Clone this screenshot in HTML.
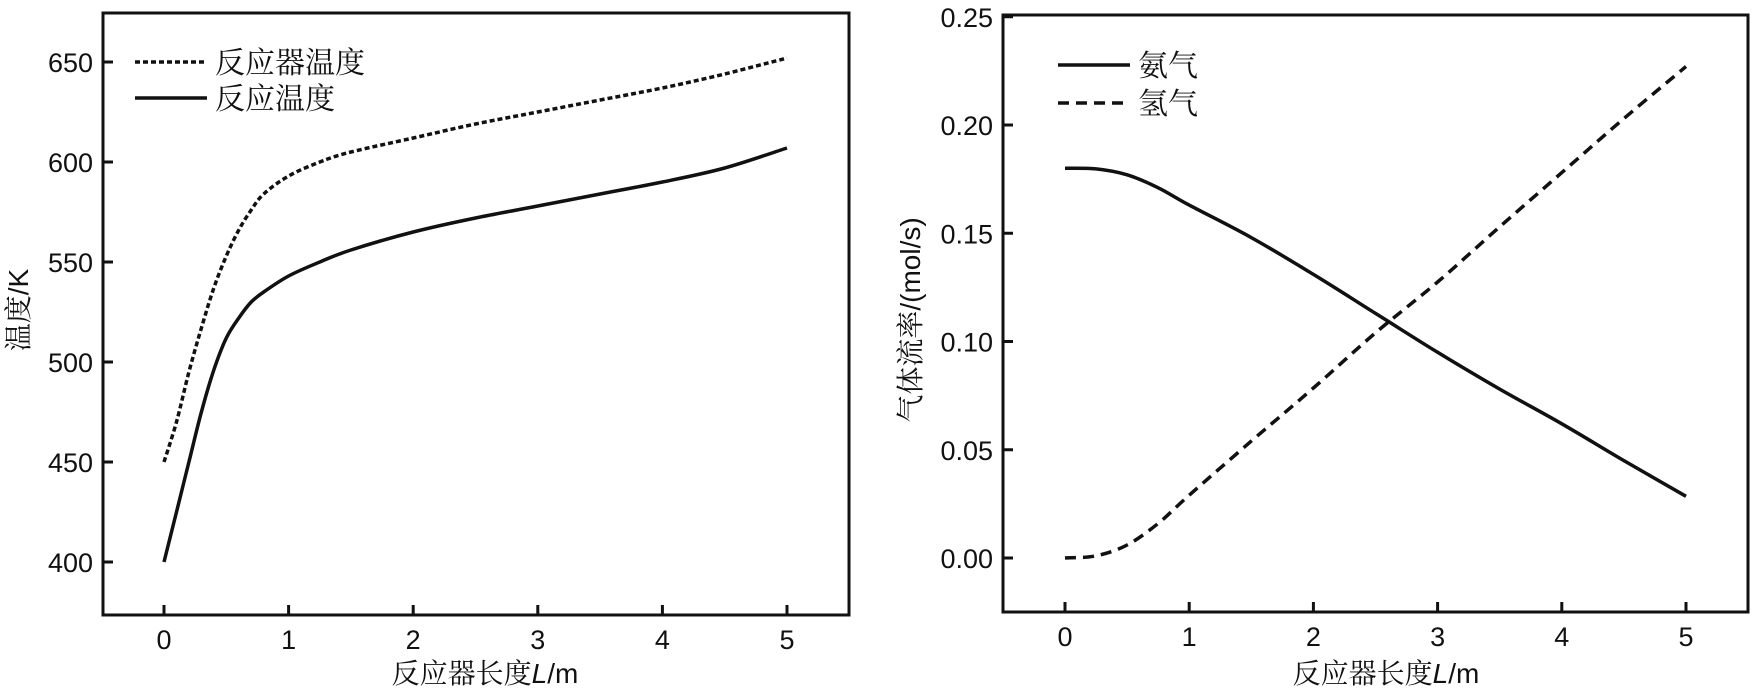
<!DOCTYPE html>
<html><head><meta charset="utf-8"><style>
html,body{margin:0;padding:0;background:#fff;}
svg{display:block;font-family:"Liberation Sans","Noto Sans CJK SC",sans-serif;}
.cjk{font-family:"Liberation Serif","Noto Serif CJK SC",serif;}
</style></head><body>
<svg id="c" width="1758" height="691" xmlns="http://www.w3.org/2000/svg"></svg>
<script>
const lx = [0,0.1,0.2,0.3,0.4,0.5,0.6,0.7,0.8,1,1.25,1.5,2,2.5,3,3.5,4,4.5,5];
const reactorTemp = [450,470,495,517,537,553,566,576,584,593,600,605,612,619,625,631,637,644,652];
const reactionTemp = [400,425,450,475,496,512,522,530,535,543,550,556,565,572,578,584,590,597,607];
const leftTicksX = [0,1,2,3,4,5];
const leftTicksY = [400,450,500,550,600,650];
const rx = [0,0.25,0.5,0.75,1,1.5,2,2.5,3,3.5,4,4.5,5];
const ammonia = [0.18,0.1797,0.177,0.171,0.163,0.148,0.131,0.113,0.095,0.078,0.062,0.045,0.0285];
const hydrogen = [0,0.001,0.006,0.016,0.029,0.054,0.0785,0.104,0.1275,0.153,0.178,0.203,0.227];
const rightTicksX = [0,1,2,3,4,5];
const rightTicksY = ["0.00","0.05","0.10","0.15","0.20","0.25"];

const NS="http://www.w3.org/2000/svg";
const svg=document.getElementById('c');
function mk(t,a,parent){const e=document.createElementNS(NS,t);for(const k in a)e.setAttribute(k,a[k]);(parent||svg).appendChild(e);return e;}

const lX=v=>164+v*124.6, lY=v=>562-(v-400)*2;
const rX=v=>1065+v*124.2, rY=v=>558-v*2165;

function panel(box, xs, xf, ys, yf, pre){
  const r=mk('rect',{x:box[0],y:box[1],width:box[2]-box[0],height:box[3]-box[1],fill:'none',stroke:'#111','stroke-width':3});
  
  
  xs.forEach(v=>{
    const l=mk('line',{x1:xf(v),x2:xf(v),y1:box[3],y2:box[3]-10,stroke:'#111','stroke-width':3});
    
    
    const t=mk('text',{x:xf(v),y:box[3]+34,'text-anchor':'middle','font-size':27,fill:'#111'});
    t.textContent=v;
    
    
  });
  ys.forEach(v=>{
    const n=parseFloat(v);
    const l=mk('line',{x1:box[0],x2:box[0]+10,y1:yf(n),y2:yf(n),stroke:'#111','stroke-width':3});
    
    
    const t=mk('text',{x:box[0]-10,y:yf(n)+10,'text-anchor':'end','font-size':27,fill:'#111'});
    t.textContent=v;
    
    
  });
}
panel([103,13,849,615],leftTicksX,lX,leftTicksY,lY,'left');
panel([1003,15,1748,612],rightTicksX,rX,rightTicksY,rY,'right');

function line(xs,ys,xf,yf,dash,name){
  const P=xs.map((x,i)=>[xf(x),yf(ys[i])]);
  let d='M'+P[0][0].toFixed(1)+' '+P[0][1].toFixed(1);
  for(let i=0;i<P.length-1;i++){
    const p0=P[Math.max(i-1,0)],p1=P[i],p2=P[i+1],p3=P[Math.min(i+2,P.length-1)];
    const c1=[p1[0]+(p2[0]-p0[0])/6,p1[1]+(p2[1]-p0[1])/6];
    const c2=[p2[0]-(p3[0]-p1[0])/6,p2[1]-(p3[1]-p1[1])/6];
    d+=` C${c1[0].toFixed(1)} ${c1[1].toFixed(1)} ${c2[0].toFixed(1)} ${c2[1].toFixed(1)} ${p2[0].toFixed(1)} ${p2[1].toFixed(1)}`;
  }
  const p=mk('path',{d:d,fill:'none',stroke:'#111','stroke-width':3.5,'stroke-dasharray':dash==='dot'?'5 3':(dash==='dash'?'11 7':'none'),'stroke-linejoin':'round'});
  
  
}
line(lx,reactorTemp,lX,lY,'dot','reactor-temperature-line');
line(lx,reactionTemp,lX,lY,'none','reaction-temperature-line');
line(rx,ammonia,rX,rY,'none','ammonia-line');
line(rx,hydrogen,rX,rY,'dash','hydrogen-line');

function legend(x,y,dash,label,name){
  const l=mk('line',{x1:x,x2:x+72,y1:y,y2:y,stroke:'#111','stroke-width':3.5,'stroke-dasharray':dash});
  
  
  const t=mk('text',{x:x+80,y:y+11,'font-size':30,fill:'#111','class':'cjk'});
  t.textContent=label;
  
  
}
legend(135,62,'5 3','反应器温度','legend-reactor-temperature');
legend(135,98,'none','反应温度','legend-reaction-temperature');
legend(1058,65,'none','氨气','legend-ammonia');
legend(1058,103,'11 7','氢气','legend-hydrogen');

function title(x,y,rot,html,name){
  const t=mk('text',{x:x,y:y,'text-anchor':'middle','font-size':28,fill:'#111',transform:rot?`rotate(-90 ${x} ${y})`:''});
  t.innerHTML=html;
  
  
}
title(485,683,false,'<tspan class="cjk">反应器长度</tspan><tspan font-style="italic">L</tspan>/m','left-x-axis-title');
title(1386,683,false,'<tspan class="cjk">反应器长度</tspan><tspan font-style="italic">L</tspan>/m','right-x-axis-title');
title(28,310,true,'<tspan class="cjk">温度</tspan>/K','left-y-axis-title');
title(920,320,true,'<tspan class="cjk">气体流率</tspan>/(mol/s)','right-y-axis-title');
</script>
</body></html>
